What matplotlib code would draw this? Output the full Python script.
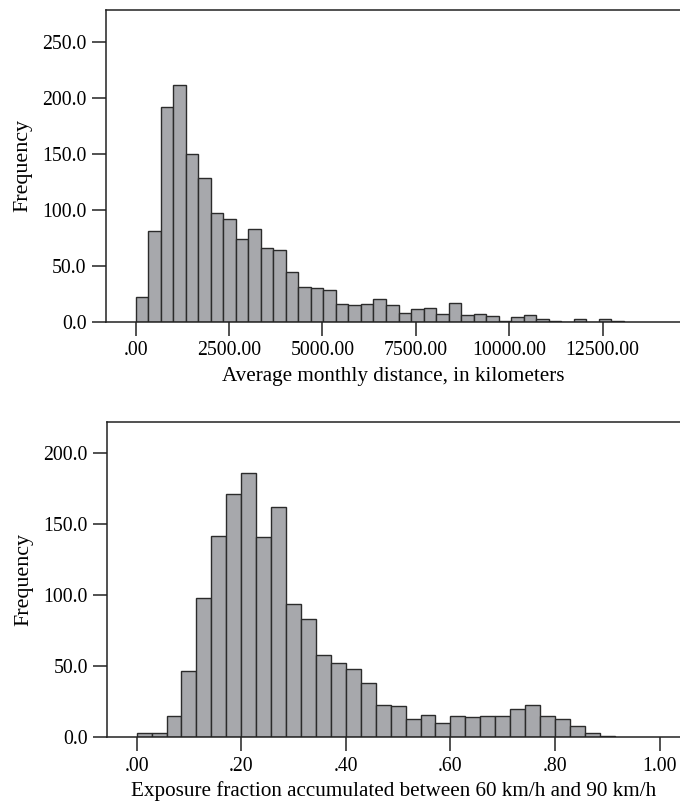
import matplotlib
matplotlib.use("Agg")
import matplotlib.pyplot as plt
import numpy as np

# ---- data ----
dist_bin_width = 335.0
dist_counts = [22, 81, 192, 211, 150, 128, 97, 92, 74, 83, 66, 64, 44, 31, 30,
               28, 16, 15, 16, 20, 15, 8, 11, 12, 7, 17, 6, 7, 5, 1,
               4, 6, 2, 1, 0, 2, 0, 2, 1]
dist_ticks = [0, 2500, 5000, 7500, 10000, 12500]
dist_tick_labels = [".00", "2500.00", "5000.00", "7500.00", "10000.00", "12500.00"]
dist_yticks = [0, 50, 100, 150, 200, 250]

exp_bin_width = 1 / 35
exp_counts = [3, 3, 15, 47, 98, 142, 171, 186, 141, 162, 94, 83, 58,
              52, 48, 38, 23, 22, 13, 16, 10, 15, 14, 15, 15, 20, 23, 15, 13, 8, 3, 1]
exp_ticks = [0, 0.2, 0.4, 0.6, 0.8, 1.0]
exp_tick_labels = [".00", ".20", ".40", ".60", ".80", "1.00"]
exp_yticks = [0, 50, 100, 150, 200]

plt.rcParams['font.family'] = ['Liberation Serif', 'DejaVu Serif']

W, H = 680, 805
fig = plt.figure(figsize=(W / 100, H / 100), dpi=100)

face = "#a7a8ac"
edge = "#2b2b2b"
fs = 14.2


def style(ax):
    ax.spines['right'].set_visible(False)
    for s in ['left', 'top', 'bottom']:
        ax.spines[s].set_linewidth(1.1)
        ax.spines[s].set_color("#222222")
    ax.tick_params(direction='out', length=10, width=1.1, color="#222222",
                   labelsize=fs, pad=4)
    ax.tick_params(axis='x', pad=4)


def px(x0, y0, x1, y1):
    return [x0 / W, 1 - y1 / H, (x1 - x0) / W, (y1 - y0) / H]


# top panel
ax1 = fig.add_axes(px(106, 10, 680, 321.7))
edges1 = np.arange(len(dist_counts)) * dist_bin_width
ax1.bar(edges1, dist_counts, width=dist_bin_width, align='edge',
        color=face, edgecolor=edge, linewidth=1.0)
ax1.set_xlim(-795, 14570)
ax1.set_ylim(0, 278.3)
ax1.set_xticks(dist_ticks)
ax1.set_xticklabels(dist_tick_labels)
ax1.set_yticks(dist_yticks)
ax1.set_yticklabels([f"{v:.1f}" for v in dist_yticks])
ax1.set_xlabel("Average monthly distance, in kilometers", fontsize=15.2, labelpad=5)
ax1.set_ylabel("Frequency", fontsize=15.8, labelpad=7)
style(ax1)

# bottom panel
ax2 = fig.add_axes(px(107.3, 421.7, 680, 737.3))
edges2 = np.arange(len(exp_counts)) * exp_bin_width
ax2.bar(edges2, exp_counts, width=exp_bin_width, align='edge',
        color=face, edgecolor=edge, linewidth=1.0)
ax2.set_xlim(-0.0562, 1.0392)
ax2.set_ylim(0, 222.2)
ax2.set_xticks(exp_ticks)
ax2.set_xticklabels(exp_tick_labels)
ax2.set_yticks(exp_yticks)
ax2.set_yticklabels([f"{v:.1f}" for v in exp_yticks])
ax2.set_xlabel("Exposure fraction accumulated between 60 km/h and 90 km/h",
               fontsize=15.2, labelpad=4)
ax2.set_ylabel("Frequency", fontsize=15.8, labelpad=7)
style(ax2)

fig.savefig("out.png", dpi=100)
